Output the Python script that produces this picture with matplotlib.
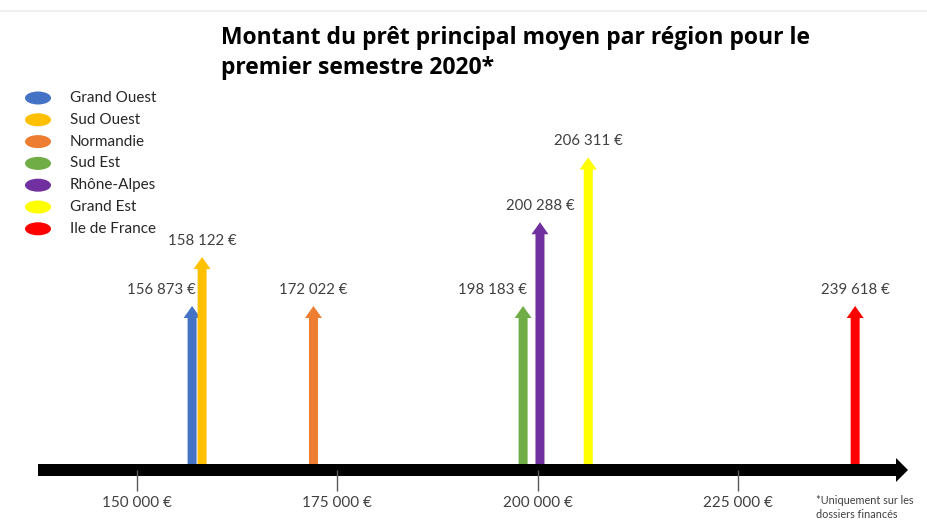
import matplotlib
matplotlib.use('Agg')
import matplotlib.pyplot as plt
from matplotlib.patches import Ellipse, FancyArrow
from matplotlib.ticker import FuncFormatter

plt.rcParams['font.family'] = ['Lato', 'DejaVu Sans']

# données
regions = ['Grand Ouest', 'Sud Ouest', 'Normandie', 'Sud Est',
           'Rhône-Alpes', 'Grand Est', 'Ile de France']
montants = [156873, 158122, 172022, 198183, 200288, 206311, 239618]
couleurs = ['#4472C4', '#FFC000', '#ED7D31', '#70AD47',
            '#7030A0', '#FFFF00', '#FF0000']
graduations = [150000, 175000, 200000, 225000]

# mise en page (hauteur des flèches, alignement des étiquettes)
niveaux = [1.0, 1.31, 1.0, 1.0, 1.53, 1.94, 1.0]
alignement = ['right', 'center', 'center', 'right', 'center', 'center', 'center']


def euros(v, pos=None):
    return f"{int(v):,} €".replace(',', ' ')


W, H = 928, 521
fig = plt.figure(figsize=(W / 100, H / 100), dpi=100)

# fond en pixels pour titre, légende, axe fléché
bg = fig.add_axes([0, 0, 1, 1])
bg.set_xlim(0, W)
bg.set_ylim(H, 0)
bg.axis('off')
bg.plot([0, W], [11, 11], color='#f0f0f0', lw=1.5)

# axe des données
ax = fig.add_axes([0, 0, 1, 1], facecolor='none')
px = 601 / 75000          # pixels par euro
x0 = 150000 - 137 / px
ax.set_xlim(x0, x0 + W / px)
unit = 158                # pixels par niveau
base = 464
ax.set_ylim(-(H - base) / unit, base / unit)

for v, lvl, c, ha in zip(montants, niveaux, couleurs, alignement):
    ax.add_patch(FancyArrow(v, 0, 0, lvl, width=9 / px, head_width=17 / px,
                            head_length=12 / unit, length_includes_head=True,
                            color=c, lw=0, zorder=2))
    dx = 4 / px if ha == 'right' else 0
    ax.text(v + dx, lvl + 16 / unit, euros(v), ha=ha, va='center',
            fontsize=10.8, color='#404040')

bg.add_patch(FancyArrow(38, 470, 870, 0, width=12, head_width=24, head_length=12,
                        length_includes_head=True, color='black', lw=0, zorder=5))

for s in ['top', 'left', 'right']:
    ax.spines[s].set_visible(False)
ax.spines['bottom'].set_position(('data', -6 / unit))
ax.spines['bottom'].set_visible(False)
ax.set_yticks([])
ax.set_xticks(graduations)
ax.xaxis.set_major_formatter(FuncFormatter(euros))
ax.tick_params(axis='x', direction='out', length=15, width=1, color='#595959',
               pad=4, labelsize=11, labelcolor='#404040')

# légende
for i, (r, c) in enumerate(zip(regions, couleurs)):
    y = 98 + i * 21.8
    bg.add_patch(Ellipse((38, y), 26, 13, color=c, lw=0))
    bg.text(70, y, r, va='center', fontsize=11, color='#262626')

# titre
titre = dict(fontsize=16.5, fontweight='bold', va='center', color='black',
             family=['Open Sans', 'DejaVu Sans'])
bg.text(221, 38, 'Montant du prêt principal moyen par région pour le', **titre)
bg.text(221, 68, 'premier semestre 2020*', **titre)

# note
bg.text(816, 501, '*Uniquement sur les', fontsize=7.8, va='center', color='#404040')
bg.text(816, 514, 'dossiers financés', fontsize=7.8, va='center', color='#404040')

fig.savefig('out.png', dpi=100)
